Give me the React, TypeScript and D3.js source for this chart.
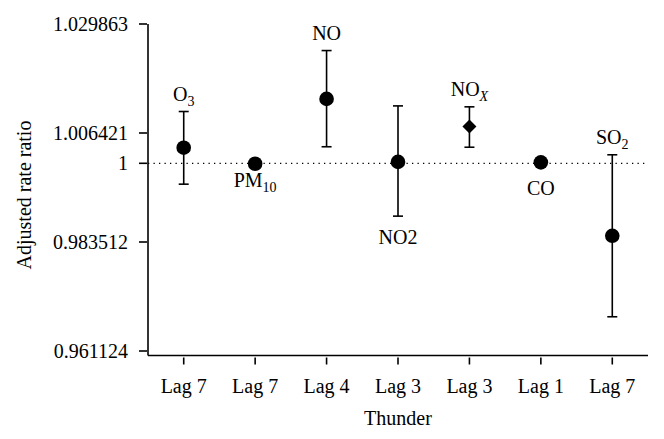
import React from "react";
import * as d3 from "d3";

const pollutants = ["O3", "PM10", "NO", "NO2", "NOX", "CO", "SO2"];
const lagLabels = ["Lag 7", "Lag 7", "Lag 4", "Lag 3", "Lag 3", "Lag 1", "Lag 7"];
const estimates = [1.0033, 0.9999, 1.0137, 1.0003, 1.0078, 1.0002, 0.9848];
const lowerCI: (number | null)[] = [0.9956, null, 1.0035, 0.9889, 1.0034, null, 0.9681];
const upperCI: (number | null)[] = [1.011, null, 1.0241, 1.0122, 1.012, null, 1.0018];
const markerShapes = ["circle", "circle", "circle", "circle", "diamond", "circle", "circle"];
const yTicks = [0.961124, 0.983512, 1, 1.006421, 1.029863];
const yTickLabels = ["0.961124", "0.983512", "1", "1.006421", "1.029863"];
const labelMain = ["O", "PM", "NO", "NO2", "NO", "CO", "SO"];
const labelSub = ["3", "10", "", "", "X", "", "2"];
const labelSubItalic = [false, false, false, false, true, false, false];
const labelSide = ["above", "below", "above", "below", "above", "below", "above"];

// layout
const W = 664, H = 439;
const left = 148, right = 648, top = 24, tickBottom = 351, axisBottom = 355.5;
const FONT = "'Liberation Serif', 'DejaVu Serif', serif";
const FS = 20;
const labelDy: Record<string, number> = { above: -11, below: 0 };
const belowOffsets = [0, 23, 0, 28, 0, 33, 0];

export default function App() {
  const idx = pollutants.map((_, i) => String(i));
  const x = d3.scalePoint<string>().domain(idx).range([left, right]).padding(0.5);
  const y = d3.scaleLog().domain([0.961124, 1.029863]).range([tickBottom, top]);
  const y1 = y(1);

  return (
    <svg width={W} height={H} style={{ position: "absolute", left: 0, top: 0, background: "#fff" }}>
      <rect x={0} y={0} width={W} height={H} fill="#fff" />
      {/* reference dotted line */}
      <line x1={left} x2={right - 3} y1={y1} y2={y1} stroke="#000" strokeWidth={1.2} strokeDasharray="1.3,4.2" />
      {/* axes */}
      <line x1={left} x2={left} y1={top} y2={axisBottom} stroke="#000" strokeWidth={1.6} />
      <line x1={left} x2={right} y1={axisBottom} y2={axisBottom} stroke="#000" strokeWidth={1.6} />
      {yTicks.map((t, i) => (
        <g key={"yt" + i}>
          <line x1={left - 9} x2={left - 1} y1={y(t)} y2={y(t)} stroke="#000" strokeWidth={1.6} />
          <text x={left - 20} y={y(t)} dy="0.35em" textAnchor="end" fontFamily={FONT} fontSize={FS}>
            {yTickLabels[i]}
          </text>
        </g>
      ))}
      {idx.map((k, i) => (
        <g key={"xt" + i}>
          <line x1={x(k)} x2={x(k)} y1={axisBottom + 2} y2={axisBottom + 9} stroke="#000" strokeWidth={1.6} />
          <text x={x(k)} y={393} textAnchor="middle" fontFamily={FONT} fontSize={FS}>
            {lagLabels[i]}
          </text>
        </g>
      ))}
      <text x={(left + right) / 2} y={425} textAnchor="middle" fontFamily={FONT} fontSize={FS}>
        Thunder
      </text>
      <text
        transform={`translate(31,195) rotate(-90)`}
        textAnchor="middle"
        fontFamily={FONT}
        fontSize={FS}
      >
        Adjusted rate ratio
      </text>
      {/* error bars & markers */}
      {idx.map((k, i) => {
        const cx = x(k) as number;
        const cy = y(estimates[i]);
        const lo = lowerCI[i];
        const hi = upperCI[i];
        return (
          <g key={"p" + i}>
            {lo != null && hi != null && (
              <g stroke="#000" strokeWidth={1.6}>
                <line x1={cx} x2={cx} y1={y(hi)} y2={y(lo)} />
                <line x1={cx - 5} x2={cx + 5} y1={y(hi)} y2={y(hi)} />
                <line x1={cx - 5} x2={cx + 5} y1={y(lo)} y2={y(lo)} />
              </g>
            )}
            {markerShapes[i] === "circle" ? (
              <circle cx={cx} cy={cy} r={7.3} fill="#000" />
            ) : (
              <path d={`M${cx},${cy - 7} L${cx + 7},${cy} L${cx},${cy + 7} L${cx - 7},${cy} Z`} fill="#000" />
            )}
          </g>
        );
      })}
      {/* labels */}
      {idx.map((k, i) => {
        const cx = x(k) as number;
        const side = labelSide[i];
        let by: number;
        if (side === "above") {
          const hi = upperCI[i];
          by = (hi != null ? y(hi) : y(estimates[i]) - 8) + labelDy.above;
        } else {
          const lo = lowerCI[i];
          by = (lo != null ? y(lo) : y(estimates[i])) + belowOffsets[i];
        }
        return (
          <text key={"l" + i} x={cx} y={by} textAnchor="middle" fontFamily={FONT} fontSize={FS}>
            <tspan>{labelMain[i]}</tspan>
            {labelSub[i] && (
              <tspan dy={5} fontSize={14} fontStyle={labelSubItalic[i] ? "italic" : "normal"}>
                {labelSub[i]}
              </tspan>
            )}
          </text>
        );
      })}
    </svg>
  );
}
